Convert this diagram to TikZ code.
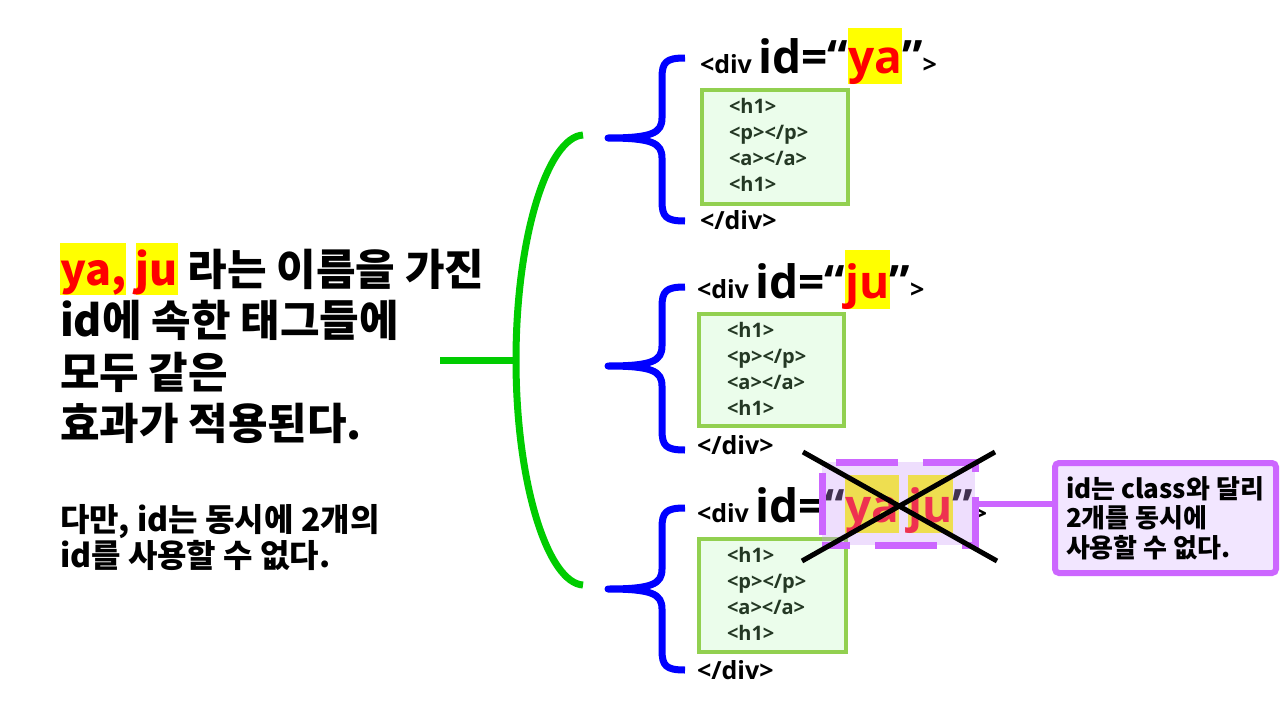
\documentclass[tikz,border=0pt]{standalone}
\usepackage{fontspec}
\setmainfont{Noto Sans CJK KR}
\newfontfamily\lat{Open Sans}
\definecolor{gcurve}{HTML}{00CC00}
\definecolor{bbrace}{HTML}{0000FF}
\definecolor{boxg}{HTML}{92D050}
\definecolor{boxfill}{HTML}{EBFDEB}
\definecolor{codec}{HTML}{243824}
\definecolor{purp}{HTML}{CC66FF}
\definecolor{purpfill}{HTML}{F2E6FF}
\definecolor{overlay}{RGB}{205,155,250}
\definecolor{hly}{HTML}{FFFF00}
\definecolor{hlr}{HTML}{FF0000}
\newcommand\hl[3]{{\setlength{\fboxsep}{0pt}\colorbox{hly}{\rule[-#2pt]{0pt}{\dimexpr #1pt + #2pt\relax}\textcolor{hlr}{#3}}}}
\newcommand\bluebrace[3]{% top, tip, bottom (spine 662, end 685, tip x 608)
  \draw[bracepath] (685,#1) .. controls (666,#1) and (662,{#1+4}) .. (662,{#1+20})
    -- (662,{#2-20}) .. controls (662,{#2-5}) and (652,#2) .. (608,#2)
    .. controls (652,#2) and (662,{#2+5}) .. (662,{#2+20})
    -- (662,{#3-20}) .. controls (662,{#3-4}) and (666,#3) .. (685,#3);}
\begin{document}
\begin{tikzpicture}[x=1pt,y=-1pt,
  txt/.style={anchor=base west, inner sep=0pt, outer sep=0pt},
  kr/.style={txt, font=\bfseries\fontsize{43}{50}\selectfont},
  krs/.style={txt, font=\bfseries\fontsize{32}{38}\selectfont},
  krc/.style={txt, font=\bfseries\fontsize{26}{31}\selectfont},
  head/.style={txt, font=\lat\bfseries\fontsize{25}{30}\selectfont},
  code/.style={txt, font=\lat\bfseries\fontsize{20}{24}\selectfont, text=codec},
  codebox/.style={draw=boxg, fill=boxfill, line width=4pt, anchor=north west, inner sep=0pt},
  bracepath/.style={draw=bbrace, line width=7pt, line join=round, line cap=butt},
  green/.style={draw=gcurve, line width=7pt},
  cross/.style={draw=black, line width=5pt},
  purpline/.style={draw=purp, line width=6pt},
  purpdash/.style={draw=purp, line width=7pt, dash pattern=on 62pt off 25pt, dash phase=34pt}
]
\useasboundingbox[fill=white] (0,0) rectangle (1280,720);

% ---------- left text ----------
\node[kr] (t1) at (60,285) {\hl{42}{8}{ya,} \hl{42}{8}{ju} 라는 이름을 가진};
\node[kr] (t2) at (60,336) {id에 속한 태그들에};
\node[kr] (t3) at (60,388) {모두 같은};
\node[kr] (t4) at (60,439) {효과가 적용된다.};
\node[krs] (t5) at (60,531) {다만, id는 동시에 2개의};
\node[krs] (t6) at (60,567) {id를 사용할 수 없다.};

% ---------- green connector ----------
\coordinate (gstem) at (440,360);
\coordinate (gleft) at (516,360);
\coordinate (gtop) at (583,135);
\coordinate (gbot) at (583,585);
\draw[green] (gstem) -- (gleft);
\draw[green] (gtop) .. controls (548,137) and (516,236) .. (gleft)
  .. controls (516,484) and (548,583) .. (gbot);

% ---------- blue braces ----------
\bluebrace{58}{138}{221}
\bluebrace{287}{366}{450}
\bluebrace{508}{589}{670}

% ---------- block 1 ----------
\node[head] (d1) at (700,73) {<div \fontsize{46}{55}\selectfont id=“\hl{45}{9}{ya}”\fontsize{25}{30}\selectfont>};
\node[codebox, minimum width=146pt, minimum height=114pt] (b1) at (700,88) {};
\node[code] (c11) at (729,113) {<h1>};
\node[code] (c12) at (729,139) {<p></p>};
\node[code] (c13) at (729,165) {<a></a>};
\node[code] (c14) at (729,191) {<h1>};
\node[head] (e1) at (700,229) {</div>};

% ---------- block 2 ----------
\node[head] (d2) at (697,298) {<div \fontsize{46}{55}\selectfont id=“\hl{48}{9}{ju}”\fontsize{25}{30}\selectfont>};
\node[codebox, minimum width=145pt, minimum height=112pt] (b2) at (697,312) {};
\node[code] (c21) at (727,337) {<h1>};
\node[code] (c22) at (727,363) {<p></p>};
\node[code] (c23) at (727,389) {<a></a>};
\node[code] (c24) at (727,415) {<h1>};
\node[head] (e2) at (697,454) {</div>};

% ---------- block 3 ----------
\node[head] (d3) at (697,522) {<div \fontsize{46}{55}\selectfont id=“\hl{47}{10}{ya}\hspace{9pt}\hl{47}{10}{ju}”\fontsize{25}{30}\selectfont>};
\node[codebox, minimum width=147pt, minimum height=113pt] (b3) at (697,537) {};
\node[code] (c31) at (727,562) {<h1>};
\node[code] (c32) at (727,588) {<p></p>};
\node[code] (c33) at (727,614) {<a></a>};
\node[code] (c34) at (727,640) {<h1>};
\node[head] (e3) at (697,679) {</div>};

% ---------- crossed-out double id ----------
\node[anchor=north west, minimum width=153pt, minimum height=83pt, inner sep=0pt,
  fill=overlay, fill opacity=0.32] (xr) at (822,462) {};
\draw[purpdash] (xr.south west) -- (xr.south east) -- (xr.north east) -- (xr.north west) -- cycle;
\coordinate (x1a) at (803,452);
\coordinate (x1b) at (997,561);
\coordinate (x2a) at (995,452);
\coordinate (x2b) at (802,561);
\draw[cross] (x1a) -- (x1b);
\draw[cross] (x2a) -- (x2b);

% ---------- callout ----------
\node[anchor=north west, minimum width=221pt, minimum height=110pt, inner sep=0pt,
  fill=purpfill, draw=purp, line width=6pt, rounded corners=4pt] (co) at (1052,460) {};
\draw[purpline] (xr.east) -- (co.west |- xr.east);
\node[krc] (k1) at (1066,498) {id는 class와 달리};
\node[krc] (k2) at (1066,527) {2개를 동시에};
\node[krc] (k3) at (1066,557) {사용할 수 없다.};
\end{tikzpicture}
\end{document}
